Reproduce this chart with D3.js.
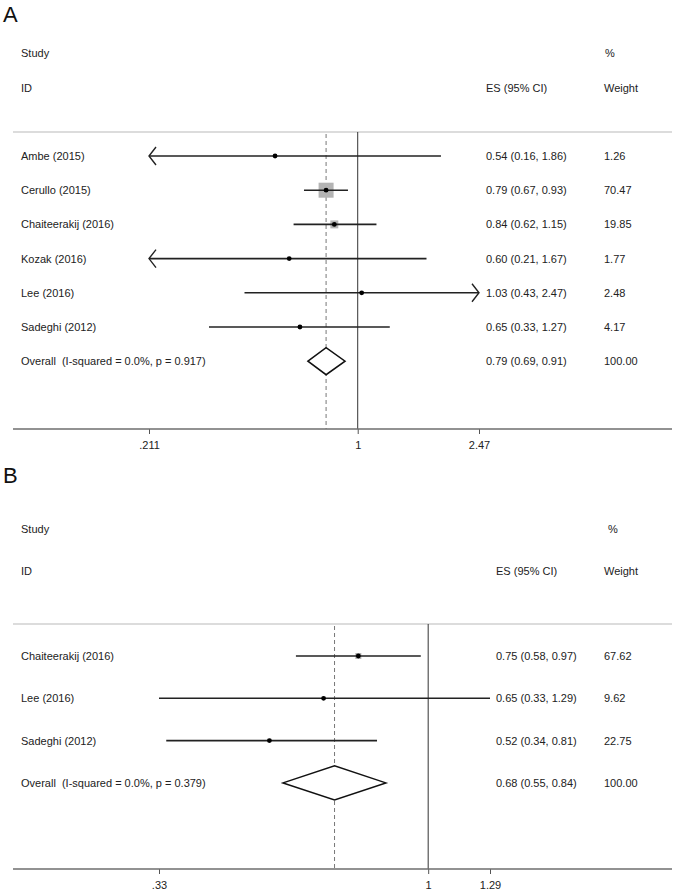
<!DOCTYPE html>
<html><head><meta charset="utf-8">
<script src="https://cdn.jsdelivr.net/npm/d3@7"></script>
<style>
html,body{margin:0;padding:0;background:#fff;}
svg{display:block;font-family:"Liberation Sans",Arial,sans-serif;}
text{white-space:pre;}
</style></head>
<body>
<svg id="chart" width="675" height="890"></svg>
<script>
// ---- Panel A data ----
const studiesA = ["Ambe (2015)", "Cerullo (2015)", "Chaiteerakij (2016)", "Kozak (2016)", "Lee (2016)", "Sadeghi (2012)"];
const esA      = [0.54, 0.79, 0.84, 0.60, 1.03, 0.65];
const lowA     = [0.16, 0.67, 0.62, 0.21, 0.43, 0.33];
const highA    = [1.86, 0.93, 1.15, 1.67, 2.47, 1.27];
const weightA  = [1.26, 70.47, 19.85, 1.77, 2.48, 4.17];
const arrowA   = ["left", "", "", "left", "right", ""];
const overallA = [0.79, 0.69, 0.91, 100.00];   // es, low, high, weight
const hetA     = ["0.0%", "0.917"];            // I-squared, p
const ticksA   = [0.211, 1, 2.47];
const tickLabelsA = [".211", "1", "2.47"];

// ---- Panel B data ----
const studiesB = ["Chaiteerakij (2016)", "Lee (2016)", "Sadeghi (2012)"];
const esB      = [0.75, 0.65, 0.52];
const lowB     = [0.58, 0.33, 0.34];
const highB    = [0.97, 1.29, 0.81];
const weightB  = [67.62, 9.62, 22.75];
const arrowB   = ["", "", ""];
const overallB = [0.68, 0.55, 0.84, 100.00];
const hetB     = ["0.0%", "0.379"];
const ticksB   = [0.33, 1, 1.29];
const tickLabelsB = [".33", "1", "1.29"];

const svg = d3.select("#chart");
const fmt = d3.format(".2f");

function panel(cfg) {
  const g = svg.append("g");
  const x = d3.scaleLog().domain([cfg.ticks[0], cfg.ticks[cfg.ticks.length - 1]]).range(cfg.xr);
  const n = cfg.studies.length;
  const rowY = i => cfg.firstRow + i * cfg.step;
  const overallY = rowY(n);
  const headerLineY = rowY(0) - cfg.headerGap;
  const axisY = cfg.axisY;

  // panel letter
  g.append("text").attr("x", 3).attr("y", cfg.letterY).attr("font-size", 22)
    .attr("fill", "#111").text(cfg.letter);

  const tc = "#222", fs = 11;
  g.append("text").attr("x", 21).attr("y", rowY(-3) + 4).attr("font-size", fs).attr("fill", tc).text("Study");
  g.append("text").attr("x", 21).attr("y", rowY(-2) + 4).attr("font-size", fs).attr("fill", tc).text("ID");
  g.append("text").attr("x", cfg.esX).attr("y", rowY(-2) + 4).attr("font-size", fs).attr("fill", tc).text("ES (95% CI)");
  g.append("text").attr("x", cfg.pctX).attr("y", rowY(-3) + 4).attr("font-size", fs).attr("fill", tc).text("%");
  g.append("text").attr("x", cfg.wX).attr("y", rowY(-2) + 4).attr("font-size", fs).attr("fill", tc).text("Weight");

  g.append("line").attr("x1", 13).attr("x2", 672).attr("y1", headerLineY).attr("y2", headerLineY)
    .attr("stroke", "#dcdcdc").attr("stroke-width", 2);

  g.append("line").attr("x1", x(1)).attr("x2", x(1)).attr("y1", headerLineY).attr("y2", axisY)
    .attr("stroke", "#333").attr("stroke-width", 1);
  g.append("line").attr("x1", x(cfg.overall[0])).attr("x2", x(cfg.overall[0]))
    .attr("y1", headerLineY + 2).attr("y2", axisY)
    .attr("stroke", "#777").attr("stroke-width", 1).attr("stroke-dasharray", "4,3");

  const axis = d3.axisBottom(x).tickValues(cfg.ticks)
    .tickFormat((d, i) => cfg.tickLabels[i]).tickSize(5).tickSizeOuter(0);
  const ag = g.append("g").attr("transform", `translate(0,${axisY})`).call(axis);
  ag.select(".domain").remove();
  ag.selectAll(".tick line").attr("stroke", "#555").attr("stroke-width", 1);
  ag.selectAll(".tick text").attr("font-size", 11).attr("fill", tc)
    .attr("font-family", "Liberation Sans, Arial, sans-serif").attr("dy", "1.1em");
  g.append("line").attr("x1", 13).attr("x2", 672).attr("y1", axisY).attr("y2", axisY)
    .attr("stroke", "#6e6e6e").attr("stroke-width", 1.6);

  const [xmin, xmax] = x.range();
  const maxW = d3.max(cfg.weights);

  cfg.studies.forEach((s, i) => {
    const y = rowY(i);
    const lo = Math.max(x(Math.max(cfg.low[i], x.domain()[0])), xmin);
    const hi = Math.min(x(Math.min(cfg.high[i], x.domain()[1])), xmax);
    const side = cfg.boxMax * Math.sqrt(cfg.weights[i] / maxW);
    g.append("rect").attr("x", x(cfg.es[i]) - side / 2).attr("y", y - side / 2)
      .attr("width", side).attr("height", side).attr("fill", "#b4b4b4");
    g.append("line").attr("x1", lo).attr("x2", hi).attr("y1", y).attr("y2", y)
      .attr("stroke", "#222").attr("stroke-width", 1.6);
    if (cfg.arrows[i] === "left") {
      g.append("path").attr("d", `M${lo + 7},${y - 9}L${lo},${y}L${lo + 7},${y + 9}`)
        .attr("fill", "none").attr("stroke", "#222").attr("stroke-width", 1.4);
    } else if (cfg.arrows[i] === "right") {
      g.append("path").attr("d", `M${hi - 7},${y - 9}L${hi},${y}L${hi - 7},${y + 9}`)
        .attr("fill", "none").attr("stroke", "#222").attr("stroke-width", 1.4);
    }
    g.append("circle").attr("cx", x(cfg.es[i])).attr("cy", y).attr("r", 2.4).attr("fill", "#000");
    g.append("text").attr("x", 21).attr("y", y + 4).attr("font-size", fs).attr("fill", tc).text(s);
    g.append("text").attr("x", cfg.esX).attr("y", y + 4).attr("font-size", fs).attr("fill", tc)
      .text(`${fmt(cfg.es[i])} (${fmt(cfg.low[i])}, ${fmt(cfg.high[i])})`);
    g.append("text").attr("x", cfg.wX).attr("y", y + 4).attr("font-size", fs).attr("fill", tc)
      .text(fmt(cfg.weights[i]));
  });

  const [oe, ol, oh, ow] = cfg.overall;
  const hh = cfg.diamondH;
  g.append("path")
    .attr("d", `M${x(ol)},${overallY}L${x(oe)},${overallY - hh}L${x(oh)},${overallY}L${x(oe)},${overallY + hh}Z`)
    .attr("fill", "#fff").attr("stroke", "#111").attr("stroke-width", 1.5);
  g.append("text").attr("x", 21).attr("y", overallY + 4).attr("font-size", fs).attr("fill", tc)
    .text(`Overall  (I-squared = ${cfg.het[0]}, p = ${cfg.het[1]})`);
  g.append("text").attr("x", cfg.esX).attr("y", overallY + 4).attr("font-size", fs).attr("fill", tc)
    .text(`${fmt(oe)} (${fmt(ol)}, ${fmt(oh)})`);
  g.append("text").attr("x", cfg.wX).attr("y", overallY + 4).attr("font-size", fs).attr("fill", tc)
    .text(fmt(ow));
}

panel({
  letter: "A", letterY: 22,
  studies: studiesA, es: esA, low: lowA, high: highA, weights: weightA, arrows: arrowA,
  overall: overallA, het: hetA, ticks: ticksA, tickLabels: tickLabelsA,
  xr: [149, 479], firstRow: 156, step: 34.2, headerGap: 24, axisY: 429,
  esX: 486, wX: 604, pctX: 605, boxMax: 15, diamondH: 13.5
});

panel({
  letter: "B", letterY: 483,
  studies: studiesB, es: esB, low: lowB, high: highB, weights: weightB, arrows: arrowB,
  overall: overallB, het: hetB, ticks: ticksB, tickLabels: tickLabelsB,
  xr: [159, 490], firstRow: 656, step: 42.3, headerGap: 32, axisY: 869,
  esX: 496, wX: 604, pctX: 608, boxMax: 6, diamondH: 17
});
</script>
</body></html>
